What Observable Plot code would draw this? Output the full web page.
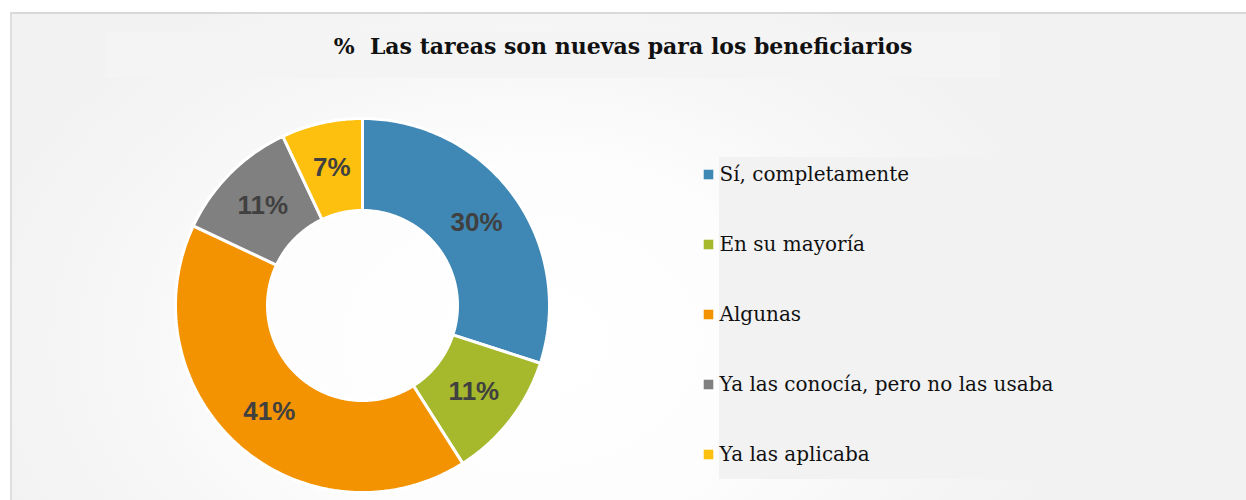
<!DOCTYPE html>
<html>
<head>
<meta charset="utf-8">
<script src="https://cdn.jsdelivr.net/npm/d3@7"></script>
<script src="https://cdn.jsdelivr.net/npm/@observablehq/plot@0.6"></script>
<style>
  html, body { margin: 0; padding: 0; background: #ffffff; }
  #wrap { position: relative; width: 1246px; height: 500px; overflow: hidden; background: #ffffff; }
  #frame { position: absolute; left: 10px; top: 12px; width: 1240px; height: 492px;
    border-top: 2px solid #d9d9d9; border-left: 2px solid #dedede;
    background: radial-gradient(ellipse 560px 400px at 510px 330px, #ffffff 0%, #fdfdfd 45%, #f6f6f6 75%, #f2f2f2 100%); }
  #titlebg { position: absolute; left: 105px; top: 32px; width: 895px; height: 46px; background: #f4f4f4; }
  #legbg { position: absolute; left: 719px; top: 157px; width: 480px; height: 322px; background: #f2f2f2; }
  #title { position: absolute; left: 0; top: 33px; width: 1246px; text-align: center;
    font-family: "DejaVu Serif", serif; font-weight: bold; font-size: 22px; color: #111; }
  #chart, #legend { position: absolute; left: 0; top: 0; }
</style>
</head>
<body>
<div id="wrap">
  <div id="frame"></div>
  <div id="titlebg"></div>
  <div id="legbg"></div>
  <div id="title">%&nbsp; Las tareas son nuevas para los beneficiarios</div>
  <div id="chart"></div>
  <div id="legend"></div>
</div>
<script>
const categories = ["Sí, completamente", "En su mayoría", "Algunas", "Ya las conocía, pero no las usaba", "Ya las aplicaba"];
const values = [30, 11, 41, 11, 7];
const labels = ["30%", "11%", "41%", "11%", "7%"];
const colors = ["#3f88b5", "#a6b82c", "#f49302", "#808080", "#fdc00e"];

const R = 1, r = 95 / 187;
const arcs = d3.pie().sort(null).value(d => d)(values);

const poly = [];
arcs.forEach((a, i) => {
  const n = Math.max(8, Math.ceil((a.endAngle - a.startAngle) * 60));
  for (let k = 0; k <= n; k++) {
    const t = a.startAngle + (a.endAngle - a.startAngle) * k / n;
    poly.push({cat: categories[i], x: R * Math.sin(t), y: R * Math.cos(t)});
  }
  for (let k = n; k >= 0; k--) {
    const t = a.startAngle + (a.endAngle - a.startAngle) * k / n;
    poly.push({cat: categories[i], x: r * Math.sin(t), y: r * Math.cos(t)});
  }
  poly.push({cat: categories[i], x: R * Math.sin(a.startAngle), y: R * Math.cos(a.startAngle)});
});

const lab = arcs.map((a, i) => {
  const m = (a.startAngle + a.endAngle) / 2, rr = (R + r) / 2;
  return {cat: categories[i], label: labels[i], x: rr * Math.sin(m), y: rr * Math.cos(m)};
});

const color = {type: "ordinal", domain: categories, range: colors};
const cx = 362, cy = 305, pr = 187;

const plot = Plot.plot({
  width: 1246, height: 500, margin: 0,
  style: {background: "transparent", overflow: "visible"},
  x: {domain: [-1, 1], range: [cx - pr, cx + pr], axis: null},
  y: {domain: [-1, 1], range: [cy + pr, cy - pr], axis: null},
  color,
  marks: [
    Plot.line(poly, {x: "x", y: "y", z: "cat", fill: "cat", stroke: "#ffffff", strokeWidth: 3, strokeLinejoin: "miter", curve: "linear"}),
    Plot.text(lab, {x: "x", y: "y", text: "label", fill: "#404040", fontSize: 26, fontWeight: "bold", fontFamily: "Liberation Sans, Arial, sans-serif"})
  ]
});
document.getElementById("chart").appendChild(plot);

// Legend drawn with Plot using the same colour scale
const legend = Plot.plot({
  width: 1246, height: 500, margin: 0,
  style: {background: "transparent", overflow: "visible"},
  x: {domain: [0, 1], range: [708, 1246], axis: null},
  y: {type: "point", domain: categories, range: [172, 455], padding: 0, axis: null},
  color,
  marks: [
    Plot.dot(categories, {x: () => 0, y: d => d, fill: d => d, symbol: "square", r: 5.4, stroke: null}),
    Plot.text(categories, {x: () => 0, y: d => d, text: d => d, dx: 11, textAnchor: "start",
      fill: "#111111", fontSize: 20, fontFamily: "DejaVu Serif, serif"})
  ]
});
document.getElementById("legend").appendChild(legend);
</script>
</body>
</html>
